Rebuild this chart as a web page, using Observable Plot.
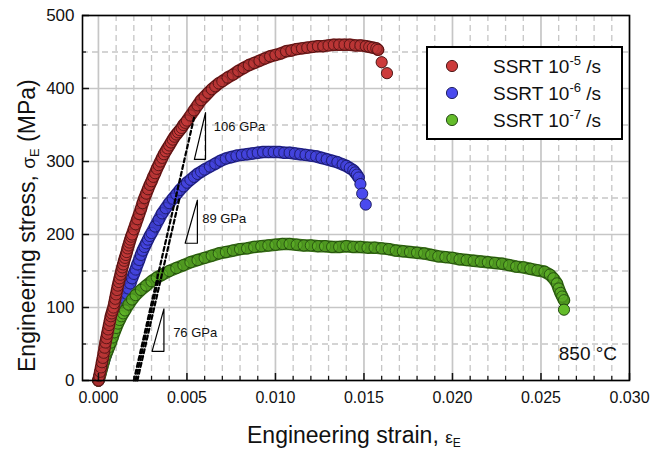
<!DOCTYPE html>
<html><head><meta charset="utf-8">
<script src="https://cdn.jsdelivr.net/npm/d3@7"></script>
<script src="https://cdn.jsdelivr.net/npm/@observablehq/plot@0.6"></script>
<style>
body{margin:0;background:#fff;font-family:"Liberation Sans",Arial,sans-serif}
#wrap{position:relative;width:653px;height:450px}
</style></head><body><div id="wrap"></div>
<script>
// ---- data ----
const seriesNames = ["SSRT 10-5 /s", "SSRT 10-6 /s", "SSRT 10-7 /s"];
const seriesExp = ["-5", "-6", "-7"];
const seriesFill = ["#cc3b3b", "#4a4aee", "#64bc2a"];
const seriesStroke = ["#3e0c0c", "#141452", "#1a3c0c"];
const seriesBand = ["#842222", "#2e2ea6", "#3a7416"];

const redStrain = [0,0.00005,0.0001,0.00015,0.0002,0.00025,0.0003,0.00035,0.0004,0.00045,0.0005,0.00055,0.0006,0.00065,0.0007,0.00075,0.0008,0.00085,0.0009,0.00095,0.001,0.00105,0.0011,0.00115,0.0012,0.00125,0.0013,0.00135,0.0014,0.00145,0.0015,0.00155,0.0016,0.00165,0.0017,0.00175,0.0018,0.00185,0.0019,0.002,0.0021,0.0022,0.0023,0.0024,0.0025,0.0026,0.0027,0.0028,0.0029,0.003,0.0031,0.0032,0.0033,0.0034,0.0035,0.0036,0.0037,0.0038,0.0039,0.004,0.0041,0.0042,0.0043,0.0044,0.0045,0.0046,0.0047,0.0048,0.0049,0.005,0.0052,0.0054,0.0056,0.0058,0.006,0.0062,0.0064,0.0066,0.0068,0.007,0.0073,0.0076,0.0079,0.0082,0.0085,0.0088,0.0091,0.0094,0.0097,0.01,0.0103,0.0106,0.0109,0.0112,0.0115,0.0118,0.0121,0.0124,0.0127,0.013,0.0133,0.0136,0.0139,0.0142,0.0145,0.0148,0.0151,0.0153,0.0155,0.0157,0.0158];
const redStress = [0,6,12,18,25,31,38,45,52,58,64,70,76,82,88,92,96,100,106,112,118,124,130,135,140,145,150,155,159,164,168,172,176,181,185,189,193,197,200,207,214,221,228,235,243,250,256,262,268,273,279,284,290,295,300,305,310,314,318,322,326,330,334,337,340,343,346,350,353,356,363,370,377,384,389,394,399,403,407,410,415,419,424,428,432,435,438,441,444,446,448,451,452,454,455,456,457,458,458,459,460,460,460,460,459,459,458,457,456,455,453];
const redEndStrain = [0.016, 0.0163];
const redEndStress = [436, 421];

const blueStrain = [0,0.0001,0.0002,0.0003,0.0004,0.0005,0.0006,0.0007,0.0008,0.0009,0.001,0.0011,0.0012,0.0013,0.0014,0.0015,0.0016,0.0017,0.0018,0.0019,0.002,0.0021,0.0022,0.0023,0.0024,0.0025,0.0026,0.0027,0.0028,0.0029,0.003,0.0032,0.0034,0.0036,0.0038,0.004,0.0042,0.0044,0.0046,0.0048,0.005,0.0052,0.0054,0.0056,0.0058,0.006,0.0063,0.0066,0.0069,0.0072,0.0075,0.0078,0.0081,0.0084,0.0087,0.009,0.0093,0.0096,0.0099,0.0102,0.0105,0.0108,0.0111,0.0114,0.0117,0.012,0.0123,0.0126,0.0129,0.0132,0.0135,0.0138,0.014,0.0142,0.0144,0.0145,0.0146,0.0147];
const blueStress = [0,9,18,26,34,41,49,56,63,71,78,85,92,98,105,112,119,126,133,140,146,152,159,165,172,178,183,188,193,198,202,211,220,229,236,243,249,255,261,266,271,275,279,283,286,289,293,297,301,304,306,308,309,310,311,312,313,313,313,313,312,312,311,310,309,308,307,305,303,301,299,296,294,291,288,285,282,278];
const blueEndStrain = [0.0148, 0.0149, 0.0151];
const blueEndStress = [269, 256, 241];

const greenStrain = [0,0.0001,0.0002,0.0003,0.0004,0.0005,0.0006,0.0007,0.0008,0.0009,0.001,0.0011,0.0012,0.0013,0.0014,0.0015,0.0017,0.0019,0.0021,0.0024,0.0027,0.003,0.0033,0.0036,0.004,0.0044,0.0048,0.0052,0.0056,0.006,0.0064,0.0068,0.0072,0.0076,0.008,0.0084,0.0088,0.0092,0.0096,0.01,0.0104,0.0108,0.0112,0.0116,0.012,0.0124,0.0128,0.0132,0.0136,0.014,0.0144,0.0148,0.0152,0.0156,0.016,0.0164,0.0168,0.0172,0.0176,0.018,0.0184,0.0188,0.0192,0.0196,0.02,0.0204,0.0208,0.0212,0.0216,0.022,0.0224,0.0228,0.0232,0.0236,0.024,0.0244,0.0248,0.0252,0.0255,0.0257,0.0259,0.026,0.0261,0.0262,0.0263];
const greenStress = [0,8,17,26,34,40,46,52,59,66,72,78,83,88,92,96,104,111,117,124,130,136,141,145,150,154,158,162,165,168,171,174,176,178,180,181,183,184,185,186,187,187,186,185,185,184,184,183,183,184,183,183,182,182,181,180,178,177,176,175,174,172,170,169,168,166,165,164,163,162,161,160,158,156,155,153,151,149,145,140,133,126,120,115,110];
const greenEndStrain = [0.0263];
const greenEndStress = [97];

// offset modulus lines (dashed)
const modLabels = ["106 GPa", "89 GPa", "76 GPa"];
const modStartStrain = [0.0020, 0.0022, 0.0021];
const modEndStrain = [0.0054, 0.0046, 0.0034];
const modEndStress = [360, 252, 140];
// slope triangles
const triStrain0 = [0.00542, 0.0049, 0.00303];
const triStrain1 = [0.00605, 0.00559, 0.0037];
const triStress0 = [303, 188, 40];
const triStress1 = [367, 247, 98];
// label anchors
const labelStrain = [0.00652, 0.00586, 0.00422];
const labelStress = [347, 221, 65];

const tempLabel = "850 °C";
const tempStrain = 0.0293;
const tempStress = 36;

const xTicks = [0, 0.005, 0.010, 0.015, 0.020, 0.025, 0.030];
const xMinor = [0.001,0.002,0.003,0.004,0.006,0.007,0.008,0.009,0.011,0.012,0.013,0.014,0.016,0.017,0.018,0.019,0.021,0.022,0.023,0.024,0.026,0.027,0.028,0.029];
const yTicks = [0, 100, 200, 300, 400, 500];
const yMinor = [50, 150, 250, 350, 450];

// ---- build tables ----
const bodyStrain = [redStrain, blueStrain, greenStrain];
const bodyStress = [redStress, blueStress, greenStress];
const endStrain = [redEndStrain, blueEndStrain, greenEndStrain];
const endStress = [redEndStress, blueEndStress, greenEndStress];
function pairs(xs, ys, s) {
  const n = Math.min(xs.length, ys.length), out = [];
  for (let j = 0; j < n; j++) out.push({s, strain: xs[j], stress: ys[j]});
  return out;
}
const body = seriesNames.map((n, i) => pairs(bodyStrain[i], bodyStress[i], i));
const ends = seriesNames.map((n, i) => pairs(endStrain[i], endStress[i], i));

const drawOrder = [1, 2, 0];
const modLines = [];
modLabels.forEach((l, i) => {
  modLines.push({k: i, strain: modStartStrain[i], stress: 0});
  modLines.push({k: i, strain: modEndStrain[i], stress: modEndStress[i]});
});
const tris = [];
modLabels.forEach((l, i) => {
  tris.push({k: i, strain: triStrain0[i], stress: triStress0[i]});
  tris.push({k: i, strain: triStrain1[i], stress: triStress0[i]});
  tris.push({k: i, strain: triStrain1[i], stress: triStress1[i]});
  tris.push({k: i, strain: triStrain0[i], stress: triStress0[i]});
});
const labels = modLabels.map((t, i) => ({t, strain: labelStrain[i], stress: labelStress[i]}));

const gridCol = "#c6c6c6";
const marks = [
  Plot.gridX(xMinor, {stroke: gridCol, strokeOpacity: 1, strokeWidth: 1.3, strokeDasharray: "6,4"}),
  Plot.gridY(yMinor, {stroke: gridCol, strokeOpacity: 1, strokeWidth: 1.3, strokeDasharray: "6,4"}),
  Plot.gridX(xTicks, {stroke: gridCol, strokeOpacity: 1, strokeWidth: 1.7}),
  Plot.gridY(yTicks, {stroke: gridCol, strokeOpacity: 1, strokeWidth: 1.7}),
];
drawOrder.forEach(i => {
  marks.push(Plot.line(body[i], {x: "strain", y: "stress", stroke: seriesBand[i], strokeWidth: 12.5, strokeLinecap: "round", strokeLinejoin: "round"}));
  marks.push(Plot.dot(body[i], {
    x: "strain", y: "stress", r: 5.6, fill: seriesFill[i], fillOpacity: 0.5,
    stroke: seriesStroke[i], strokeWidth: 0.9, strokeOpacity: 0.8
  }));
  marks.push(Plot.dot(ends[i], {
    x: "strain", y: "stress", r: 5.6, fill: seriesFill[i], fillOpacity: 1,
    stroke: seriesStroke[i], strokeWidth: 0.9
  }));
});
marks.push(
  Plot.line(modLines, {x: "strain", y: "stress", z: "k", stroke: "black", strokeWidth: 2.2, strokeDasharray: "4,3"}),
  Plot.line(tris, {x: "strain", y: "stress", z: "k", stroke: "black", strokeWidth: 1.2}),
  Plot.text(labels, {x: "strain", y: "stress", text: "t", textAnchor: "start", fontSize: 13, fill: "#111"}),
  Plot.text([tempLabel], {x: () => tempStrain, y: () => tempStress, text: d => d, textAnchor: "end", fontSize: 19, fill: "#111"}),
  Plot.axisX(xTicks, {tickSize: 0, tickPadding: 11, tickFormat: d3.format(".3f"), fontSize: 16, label: null, fill: "#111"}),
  Plot.axisX(xTicks, {tickSize: -7, text: null, label: null, strokeWidth: 1.5}),
  Plot.axisX(xMinor, {tickSize: -4, text: null, label: null, strokeWidth: 1.2}),
  Plot.axisY(yTicks, {tickSize: 0, tickPadding: 8, fontSize: 17, label: null, fill: "#111"}),
  Plot.axisY(yTicks, {tickSize: -7, text: null, label: null, strokeWidth: 1.5}),
  Plot.axisY(yMinor, {tickSize: -4, text: null, label: null, strokeWidth: 1.2}),
  Plot.frame({stroke: "black", strokeWidth: 1.6})
);

const chart = Plot.plot({
  width: 653, height: 450,
  marginLeft: 82, marginRight: 24, marginTop: 15, marginBottom: 70,
  style: {fontFamily: "'Liberation Sans', Arial, sans-serif", background: "white", color: "#111"},
  x: {domain: [-0.0009, 0.030]},
  y: {domain: [0, 500]},
  marks
});
document.getElementById("wrap").appendChild(chart);

// ---- titles & legend ----
const svg = d3.select(chart);
const ff = "'Liberation Sans', Arial, sans-serif";
const xt = svg.append("text").attr("x", 247).attr("y", 443).attr("text-anchor", "start")
  .attr("font-family", ff).attr("font-size", 23).attr("fill", "#111");
xt.append("tspan").text("Engineering strain, ");
xt.append("tspan").attr("font-size", 17).text("ε");
xt.append("tspan").attr("font-size", 12).attr("dy", 4).text("E");

const yt = svg.append("text").attr("transform", "translate(35,372) rotate(-90)")
  .attr("text-anchor", "start").attr("font-family", ff).attr("font-size", 23).attr("fill", "#111");
yt.append("tspan").text("Engineering stress, ");
yt.append("tspan").attr("font-size", 19).text("σ");
yt.append("tspan").attr("font-size", 13).attr("dy", 4).text("E");
yt.append("tspan").attr("dy", -4).text(" (MPa)");

const lg = svg.append("g");
lg.append("rect").attr("x", 427).attr("y", 47).attr("width", 195).attr("height", 92)
  .attr("fill", "white").attr("stroke", "black").attr("stroke-width", 2);
seriesNames.forEach((s, i) => {
  const cy = 66 + i * 27;
  lg.append("circle").attr("cx", 452).attr("cy", cy).attr("r", 5.6)
    .attr("fill", seriesFill[i]).attr("stroke", seriesStroke[i]).attr("stroke-width", 0.9);
  const t = lg.append("text").attr("x", 493).attr("y", cy + 7).attr("text-anchor", "start")
    .attr("font-family", ff).attr("font-size", 19).attr("fill", "#111");
  t.append("tspan").text("SSRT 10");
  t.append("tspan").attr("font-size", 13).attr("dy", -8).text(seriesExp[i]);
  t.append("tspan").attr("dy", 8).text(" /s");
});
</script></body></html>
